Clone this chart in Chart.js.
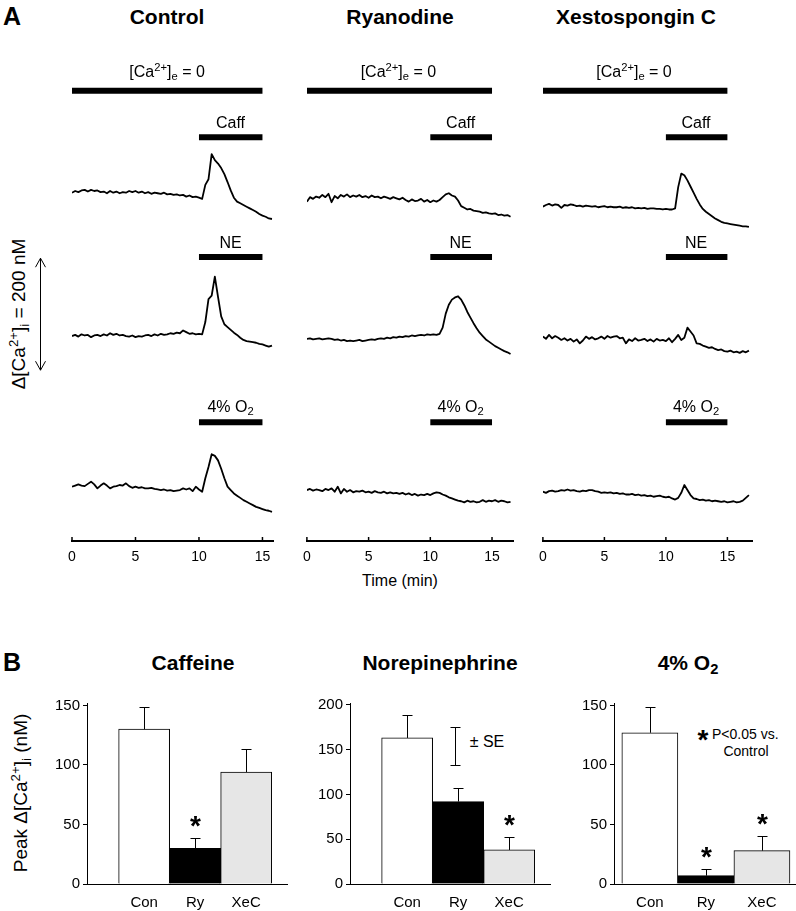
<!DOCTYPE html>
<html>
<head>
<meta charset="utf-8">
<script src="https://cdn.jsdelivr.net/npm/chart.js@4.4.1/dist/chart.umd.min.js"></script>
<style>
body{margin:0;background:#fff;width:796px;height:911px;position:relative;overflow:hidden;font-family:"Liberation Sans",Arial,Helvetica,sans-serif;color:#000}
canvas{position:absolute}
.lbl{position:absolute;transform:translate(-50%,-50%);white-space:nowrap;line-height:1}
.lft{position:absolute;transform:translateY(-50%);white-space:nowrap;line-height:1}
.b{font-weight:bold}
.h{font-weight:bold;font-size:21px}
.s{font-size:16px}
.rot{transform:translate(-50%,-50%) rotate(-90deg)}
sup,sub{font-size:0.7em;vertical-align:0;position:relative}
sup{top:-0.55em}
sub{top:0.3em}
</style>
</head>
<body>
<div class="lbl b" style="left:12px;top:16px;font-size:25px">A</div>
<div class="lbl h" style="left:167px;top:16px">Control</div>
<div class="lbl h" style="left:400px;top:16px">Ryanodine</div>
<div class="lbl h" style="left:636px;top:16px">Xestospongin C</div>
<div class="lbl rot" style="left:18px;top:314px;font-size:19px">Δ[Ca<sup>2+</sup>]<sub>i</sub> = 200 nM</div>
<div class="lbl s" style="left:400px;top:581px">Time (min)</div>

<div class="lbl b" style="left:12px;top:662px;font-size:25px">B</div>
<div class="lbl h" style="left:193px;top:662px">Caffeine</div>
<div class="lbl h" style="left:440px;top:662px">Norepinephrine</div>
<div class="lbl h" style="left:688px;top:662px">4% O<sub>2</sub></div>
<div class="lbl rot" style="left:20px;top:793px;font-size:19px">Peak Δ[Ca<sup>2+</sup>]<sub>i</sub> (nM)</div>
<div class="lbl" style="left:487px;top:742px;font-size:16px">± SE</div>
<div class="lbl b" style="left:703px;top:740px;font-size:28px">*</div>
<div class="lft" style="left:712px;top:734px;font-size:14px">P&lt;0.05 vs.</div>
<div class="lbl" style="left:746px;top:751px;font-size:14px">Control</div>

<script>
// tider (min) for varje matpunkt i sparen
const minutes = [
  0,0.25,0.5,0.75,1,1.25,1.5,1.75,
  2,2.25,2.5,2.75,3,3.25,3.5,3.75,
  4,4.25,4.5,4.75,5,5.25,5.5,5.75,
  6,6.25,6.5,6.75,7,7.25,7.5,7.75,
  8,8.25,8.5,8.75,9,9.25,9.5,9.75,
  10,10.25,10.5,10.75,11,11.25,11.5,11.75,
  12,12.25,12.5,12.75,13,13.25,13.5,13.75,
  14,14.25,14.5,14.75,15,15.25,15.5,15.75,
  16,16.25,16.5,16.75
]
const timeTicks = [0, 5, 10, 15]

// delta [Ca2+]i (nM) relativt sparets start
const conCaff = [
  0,3,1,4,5,2,5,3, 4,1,2,-1,3,0,2,-1, 1,0,3,1,3,0,2,-1, 1,-2,0,-1,-2,0,-3,-2,
  -4,-3,-5,-4,-7,-5,-8,-7, -9,-11,14,24,69,58,52,44, 33,19,4,-9,-16,-19,-22,-25,
  -28,-31,-34,-38,-41,-43,-46,-47, null,null,null,null
]
const conNE = [
  0,2,-1,3,1,2,-2,1, 2,0,3,1,5,2,4,1, 2,0,-1,1,-2,0,-1,1, 2,0,3,1,4,2,3,5,
  4,6,5,10,7,4,5,3, 4,3,25,66,72,106,70,35, 21,16,11,6,2,-3,-7,-9,
  -10,-11,-12,-14,-15,-17,-19,-17, null,null,null,null
]
const conO2 = [
  0,2,4,2,1,5,9,4, -3,2,6,2,-3,0,1,3, 2,6,1,-2,0,-2,-1,-3, -3,-2,-4,-5,-6,-5,-7,-6,
  -8,-7,-6,-3,-5,-3,-8,0, -5,-9,15,35,58,55,47,32, 15,0,-6,-12,-16,-20,-24,-27,
  -30,-33,-36,-38,-40,-42,-43,-45, null,null,null,null
]
const ryCaff = [
  -6,2,-1,3,1,6,2,8, -7,4,0,6,3,7,2,5, 3,6,2,4,1,5,2,3, 0,3,1,-1,2,0,-2,1,
  -3,-6,-2,-5,-4,-1,-6,-3, -7,-4,-6,-3,2,7,9,5, 3,-4,-14,-17,-20,-19,-22,-23,
  -24,-26,-25,-27,-28,-27,-30,-29, -31,-30,-33,null
]
const ryNE = [
  0,1,-1,0,1,-1,0,1, 0,-2,-1,-3,-2,-4,-3,-4, -3,-2,-4,-3,-2,-1,-2,0, 1,0,2,1,3,2,4,3,
  5,4,6,5,6,7,6,8, 7,8,7,9,20,45,61,70, 74,76,70,60,48,38,28,19,
  11,5,-1,-5,-9,-13,-16,-19, -22,-24,-27,null
]
const ryO2 = [
  0,2,-1,1,0,-2,2,0, 3,-3,6,-6,2,-3,0,-4, -2,-3,-1,-4,-3,-5,-2,-4, -5,-3,-6,-4,-6,-5,-7,-5,
  -8,-6,-9,-7,-10,-8,-9,-7, -9,-6,-4,-5,-8,-10,-13,-15, -17,-19,-20,-22,-19,-21,-20,-22,
  -21,-18,-21,-19,-20,-18,-21,-19, -20,-22,-21,null
]
const xecCaff = [
  0,3,5,2,4,3,-2,3, 2,4,3,1,2,0,2,1, 0,1,-1,0,1,-1,0,-1, -1,0,-2,-1,-2,-1,-3,-2,
  -3,-2,-4,-3,-3,-4,-4,-5, -4,-5,-5,-3,35,59,56,47, 36,25,14,4,-4,-9,-13,-17,
  -21,-24,-27,-29,-30,-31,-32,-33, -34,-35,-35,-36
]
const xecNE = [
  0,-4,3,-3,1,-2,-6,-3, -7,-4,-9,-5,-12,-7,0,-4, -1,-5,-3,0,-4,1,-2,0, 1,-3,-2,-12,-5,-8,-3,-7,
  -6,-4,-8,-5,-9,-4,-7,-6, -8,-3,-10,-4,3,-6,-2,16, 9,2,-12,-13,-16,-18,-20,-19,
  -22,-24,-23,-26,-27,-25,-28,-27, -29,-26,-28,-25
]
const xecO2 = [
  0,-2,1,2,0,1,3,2, 4,2,3,1,0,2,1,3, 3,1,0,-2,-1,-2,-1,-3, -2,-4,-3,-5,-5,-4,-6,-5,
  -7,-6,-8,-7,-9,-8,-7,-9, -10,-9,-12,-14,-11,-2,12,3, -6,-12,-13,-15,-14,-16,-15,-17,
  -16,-17,-18,-17,-19,-18,-17,-19, -18,-16,-11,-6
]

// perioder (min) for Ca-fri losning och stimulus
const ca0Span = [0, 15]
const stimSpan = [10, 15]
const stimNames = ['Caff', 'NE', '4% O<sub>2</sub>']

// stapeldiagram, panel B
const barCats = ['Con', 'Ry', 'XeC']
const barColors = ['#ffffff', '#000000', '#e6e6e6']
const caffMean = [130, 30, 94]
const caffSE = [19, 9, 19]
const caffSig = [false, true, false]
const caffTicks = [0, 50, 100, 150]
const neMean = [163, 92, 38]
const neSE = [26, 15, 15]
const neSig = [false, false, true]
const neTicks = [0, 50, 100, 150, 200]
const o2Mean = [127, 7, 28]
const o2SE = [22, 6, 12]
const o2Sig = [false, true, true]
const o2Ticks = [0, 50, 100, 150]

const FONT = '"Liberation Sans", Arial, Helvetica, sans-serif'
Chart.defaults.font.family = FONT
Chart.defaults.color = '#000'

// layout for panel A
const NM_PX = 0.56
const TOP = 80
const AXIS_Y = 541
const yMaxA = (AXIS_Y - TOP) / NM_PX
const barLevels = [804, 721, 507, 212]
const labelY = [123, 243, 407]
const cols = [
  {left: 72, ppm: 12.68, tMax: 15.83, padL: 42, traces: [conCaff, conNE, conO2], base: [622, 366, 97]},
  {left: 305, ppm: 12.45, tMax: 16.7, padL: 10, traces: [ryCaff, ryNE, ryO2], base: [612, 361, 91]},
  {left: 541, ppm: 12.4, tMax: 17.0, padL: 10, traces: [xecCaff, xecNE, xecO2], base: [597, 365, 88]}
]

function makeCanvas(left, top, w, h){
    let c = document.createElement('canvas')
    c.width = w
    c.height = h
    c.style.left = left + 'px'
    c.style.top = top + 'px'
    c.style.width = w + 'px'
    c.style.height = h + 'px'
    document.body.appendChild(c)
    return c
}

function addLabel(html, x, y, size){
    let d = document.createElement('div')
    d.className = 'lbl'
    d.style.left = x + 'px'
    d.style.top = y + 'px'
    d.style.fontSize = size + 'px'
    d.innerHTML = html
    document.body.appendChild(d)
}

// sma tickmarkeringar som pekar uppat fran tidsaxeln
const upTicks = {
    id: 'upTicks',
    afterDraw(chart){
        const ctx = chart.ctx
        const xs = chart.scales.x
        const y = chart.chartArea.bottom
        ctx.save()
        ctx.strokeStyle = '#000'
        ctx.lineWidth = 1.5
        timeTicks.forEach(v => {
            const x = xs.getPixelForValue(v)
            ctx.beginPath()
            ctx.moveTo(x, y)
            ctx.lineTo(x, y - 4)
            ctx.stroke()
        })
        ctx.restore()
    }
}

// skalstreck 200 nM med pilar
const scaleBar = {
    id: 'scaleBar',
    afterDraw(chart, args, opts){
        if (!opts.show) return
        const ctx = chart.ctx
        const ys = chart.scales.y
        const x = chart.chartArea.left - 31.5
        const y1 = ys.getPixelForValue(opts.top)
        const y2 = ys.getPixelForValue(opts.top - opts.nm)
        ctx.save()
        ctx.strokeStyle = '#000'
        ctx.lineWidth = 1
        ctx.beginPath()
        ctx.moveTo(x, y1); ctx.lineTo(x, y2)
        ctx.moveTo(x - 5, y1 + 9); ctx.lineTo(x, y1); ctx.lineTo(x + 5, y1 + 9)
        ctx.moveTo(x - 5, y2 - 9); ctx.lineTo(x, y2); ctx.lineTo(x + 5, y2 - 9)
        ctx.stroke()
        ctx.restore()
    }
}

cols.forEach((col, ci) => {
    const areaW = col.tMax * col.ppm
    const padT = 10, padR = 10, axisH = 25
    const cv = makeCanvas(col.left - col.padL, TOP - padT, Math.round(areaW + col.padL + padR), AXIS_Y - TOP + padT + axisH)

    const datasets = []
    datasets.push({data: ca0Span.map(t => ({x: t, y: barLevels[0]})), borderWidth: 6})
    for (let r = 0; r < 3; r++){
        datasets.push({data: stimSpan.map(t => ({x: t, y: barLevels[r + 1]})), borderWidth: 6})
    }
    col.traces.forEach((tr, r) => {
        datasets.push({
            data: minutes.map((t, i) => ({x: t, y: tr[i] === null ? null : tr[i] + col.base[r]})),
            borderWidth: 1.8
        })
    })

    new Chart(cv, {
        type: 'line',
        data: {datasets: datasets},
        options: {
            responsive: false,
            animation: false,
            devicePixelRatio: 1,
            events: [],
            layout: {padding: {left: col.padL, right: padR, top: padT, bottom: 0}},
            elements: {
                line: {borderColor: '#000', tension: 0, fill: false, borderCapStyle: 'butt', borderJoinStyle: 'round'},
                point: {radius: 0}
            },
            spanGaps: false,
            scales: {
                x: {
                    type: 'linear',
                    min: 0,
                    max: col.tMax,
                    afterBuildTicks: s => { s.ticks = timeTicks.map(v => ({value: v})) },
                    afterFit: s => { s.height = axisH },
                    ticks: {font: {size: 14}, color: '#000', padding: 8, maxRotation: 0, autoSkip: false},
                    grid: {display: false, drawTicks: false},
                    border: {display: true, color: '#000', width: 2}
                },
                y: {display: false, min: 0, max: yMaxA}
            },
            plugins: {
                legend: {display: false},
                tooltip: {enabled: false},
                scaleBar: {show: ci === 0, top: 505, nm: 200}
            }
        },
        plugins: [upTicks, scaleBar]
    })

    // text over perioderna
    const midAll = col.left + (ca0Span[0] + ca0Span[1]) / 2 * col.ppm
    addLabel('[Ca<sup>2+</sup>]<sub>e</sub> = 0', midAll, 72, 16)
    const midStim = col.left + (stimSpan[0] + stimSpan[1]) / 2 * col.ppm
    stimNames.forEach((n, r) => addLabel(n, midStim, labelY[r], 16))
})

// felstaplar och stjarnor
const errBars = {
    id: 'errBars',
    afterDatasetsDraw(chart, args, opts){
        const ctx = chart.ctx
        const xs = chart.scales.x
        const ys = chart.scales.y
        ctx.save()
        ctx.strokeStyle = '#000'
        ctx.fillStyle = '#000'
        ctx.lineWidth = 1
        ctx.font = 'bold 28px ' + FONT
        ctx.textAlign = 'center'
        ctx.textBaseline = 'alphabetic'
        opts.mean.forEach((m, i) => {
            const x = Math.round(xs.getPixelForValue(i)) + 0.5
            const y0 = ys.getPixelForValue(m)
            const y1 = Math.round(ys.getPixelForValue(m + opts.se[i])) + 0.5
            ctx.beginPath()
            ctx.moveTo(x, y0); ctx.lineTo(x, y1)
            ctx.moveTo(x - 5, y1); ctx.lineTo(x + 5, y1)
            ctx.stroke()
            if (opts.sig[i]) ctx.fillText('*', x, y1 - 4)
        })
        if (opts.key){
            const k = opts.key
            ctx.beginPath()
            ctx.moveTo(k.x, k.y1); ctx.lineTo(k.x, k.y2)
            ctx.moveTo(k.x - 5, k.y1); ctx.lineTo(k.x + 5, k.y1)
            ctx.moveTo(k.x - 5, k.y2); ctx.lineTo(k.x + 5, k.y2)
            ctx.stroke()
        }
        ctx.restore()
    }
}

const barPanels = [
  {axisX: 87, right: 287, yMax: 152, xMin: -1.12, xMax: 2.8, mean: caffMean, se: caffSE, sig: caffSig, ticks: caffTicks},
  {axisX: 350, right: 550, yMax: 202, xMin: -1.12, xMax: 2.8, mean: neMean, se: neSE, sig: neSig, ticks: neTicks, key: {x: 455.5, y1: 727.5, y2: 765.5}},
  {axisX: 614, right: 795, yMax: 152, xMin: -0.64, xMax: 2.59, mean: o2Mean, se: o2SE, sig: o2Sig, ticks: o2Ticks}
]
const B_TOP = 703, B_BOT = 884

barPanels.forEach(p => {
    const yw = 40, padL = 4, padR = 4, padT = 12, axisH = 28
    const left = p.axisX - yw - padL
    const top = B_TOP - padT
    const cv = makeCanvas(left, top, p.right - p.axisX + yw + padL + padR, B_BOT - B_TOP + padT + axisH)
    let key = null
    if (p.key) key = {x: p.key.x - left, y1: p.key.y1 - top, y2: p.key.y2 - top}
    new Chart(cv, {
        type: 'bar',
        data: {
            datasets: [{
                data: p.mean.map((m, i) => ({x: i, y: m})),
                backgroundColor: barColors,
                borderColor: '#000',
                borderWidth: 1,
                barPercentage: 1,
                categoryPercentage: 1
            }]
        },
        options: {
            responsive: false,
            animation: false,
            devicePixelRatio: 1,
            events: [],
            layout: {padding: {left: padL, right: padR, top: padT, bottom: 0}},
            scales: {
                x: {
                    type: 'linear',
                    offset: false,
                    min: p.xMin,
                    max: p.xMax,
                    afterBuildTicks: s => { s.ticks = barCats.map((c, i) => ({value: i})) },
                    afterFit: s => { s.height = axisH },
                    ticks: {font: {size: 15}, color: '#000', padding: 10, maxRotation: 0, autoSkip: false, callback: v => barCats[v]},
                    grid: {display: false, drawTicks: false},
                    border: {display: true, color: '#000', width: 1}
                },
                y: {
                    min: 0,
                    max: p.yMax,
                    afterBuildTicks: s => { s.ticks = p.ticks.map(v => ({value: v})) },
                    afterFit: s => { s.width = yw },
                    ticks: {font: {size: 15}, color: '#000', padding: 3},
                    grid: {drawOnChartArea: false, drawTicks: true, tickLength: 4, color: '#000'},
                    border: {display: true, color: '#000', width: 1}
                }
            },
            plugins: {
                legend: {display: false},
                tooltip: {enabled: false},
                errBars: {mean: p.mean, se: p.se, sig: p.sig, key: key}
            }
        },
        plugins: [errBars]
    })
})
</script>
</body>
</html>
